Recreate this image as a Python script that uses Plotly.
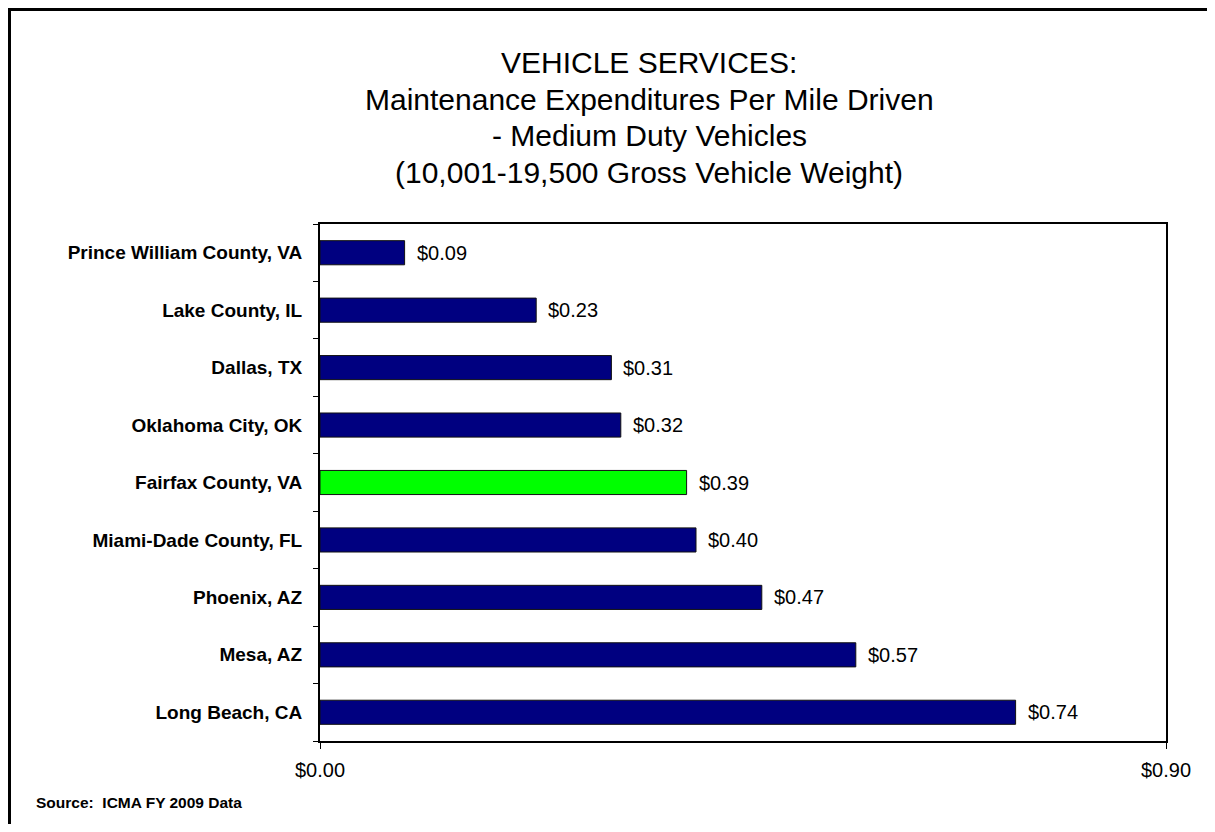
import plotly.graph_objects as go

categories = ["Prince William County, VA", "Lake County, IL", "Dallas, TX",
              "Oklahoma City, OK", "Fairfax County, VA", "Miami-Dade County, FL",
              "Phoenix, AZ", "Mesa, AZ", "Long Beach, CA"]
values = [0.09, 0.23, 0.31, 0.32, 0.39, 0.40, 0.47, 0.57, 0.74]
highlight = "Fairfax County, VA"
x_tickvals = [0.0, 0.9]
x_ticktext = ["$0.00", "$0.90"]
title_lines = ["VEHICLE SERVICES:",
               "Maintenance Expenditures Per Mile Driven",
               "- Medium Duty Vehicles",
               "(10,001-19,500 Gross Vehicle Weight)"]
source_text = "Source:  ICMA FY 2009 Data"

NAVY = "#000080"
GREEN = "#00FF00"
FONT = "Liberation Sans, Arial, sans-serif"
colors = [GREEN if c == highlight else NAVY for c in categories]

# page has an 8px body margin; figure sized to fit the window inside it
OFF = 8
W, H = 1215 - 2 * OFF, 832 - 2 * OFF
L, T = 320 - OFF, 224 - OFF
RIGHT, BOTTOM = 1166 - OFF, 741 - OFF
R, B = W - RIGHT, H - BOTTOM
pw, ph = RIGHT - L, BOTTOM - T

def px_x(px):
    return (px - OFF - L) / pw

def px_y(py):
    return (BOTTOM - (py - OFF)) / ph

fig = go.Figure()
fig.add_trace(go.Bar(
    x=values, y=categories, orientation="h",
    marker=dict(color=colors, line=dict(color="#111111", width=1)),
    width=0.42, hoverinfo="skip",
))

annotations = []
for c, v in zip(categories, values):
    annotations.append(dict(
        x=v, y=c, xref="x", yref="y", text=f"${v:.2f}", showarrow=False,
        xanchor="left", yanchor="middle", xshift=10,
        font=dict(family=FONT, size=20, color="black"),
    ))

title_centers = [62.5, 99, 136, 172]
for line, cy in zip(title_lines, title_centers):
    annotations.append(dict(
        x=px_x(649), y=px_y(cy), xref="paper", yref="paper",
        text=line, showarrow=False, xanchor="center", yanchor="middle",
        font=dict(family=FONT, size=30, color="black"),
    ))

annotations.append(dict(
    x=px_x(34), y=px_y(802), xref="paper", yref="paper",
    text=f"<b>{source_text}</b>", showarrow=False,
    xanchor="left", yanchor="middle",
    font=dict(family=FONT, size=15.5, color="black"),
))

border_x = px_x(OFF + 1)
border_y = px_y(OFF + 1)
shapes = [
    dict(type="line", xref="paper", yref="paper",
         x0=border_x, x1=border_x, y0=px_y(900), y1=border_y + 0.004,
         line=dict(color="black", width=4)),
    dict(type="line", xref="paper", yref="paper",
         x0=border_x - 0.003, x1=px_x(1260), y0=border_y, y1=border_y,
         line=dict(color="black", width=4)),
]

fig.update_layout(
    width=W, height=H,
    margin=dict(l=L, r=R, t=T, b=B, autoexpand=False),
    paper_bgcolor="white", plot_bgcolor="white",
    showlegend=False,
    xaxis=dict(
        range=[0, 0.9], tickvals=x_tickvals, ticktext=x_ticktext,
        showgrid=False, zeroline=False,
        showline=True, linecolor="black", linewidth=2, mirror=True,
        ticks="outside", ticklen=6, tickcolor="black", tickwidth=1,
        tickfont=dict(family=FONT, size=20, color="black"),
        ticklabelstandoff=4,
    ),
    yaxis=dict(
        categoryorder="array", categoryarray=categories, autorange="reversed",
        tickvals=categories, ticktext=[f"<b>{c}</b>" for c in categories],
        showgrid=False, zeroline=False,
        showline=True, linecolor="black", linewidth=2, mirror=True,
        ticks="outside", ticklen=5, tickcolor="black", tickwidth=1,
        tickson="boundaries",
        tickfont=dict(family=FONT, size=19, color="black"),
        ticklabelstandoff=12,
    ),
    annotations=annotations,
    shapes=shapes,
)

fig.write_html("out.html")
